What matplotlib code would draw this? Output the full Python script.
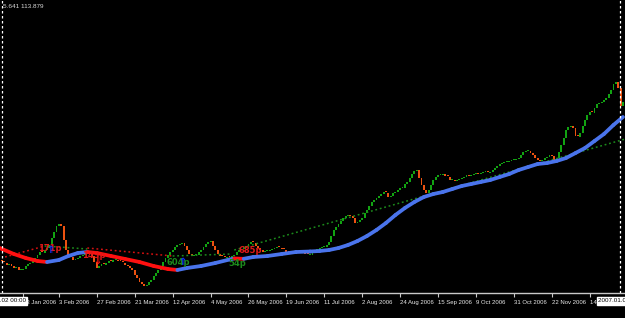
import numpy as np
import matplotlib.pyplot as plt
from matplotlib.collections import LineCollection

# daily closes, bar 0 = 2 Jan 2006
closes = [
    103.0, 102.9, 102.7, 102.8, 102.6, 102.4, 102.5, 102.2, 102.2, 102.3,
    102.6, 102.8, 102.9, 103.2, 103.4, 103.7, 104.0, 103.9, 104.2, 104.4,
    104.7, 105.4, 106.0, 106.6, 106.8, 106.6, 105.2, 104.2, 103.7, 103.5,
    103.2, 103.3, 103.4, 103.6, 103.7, 103.9, 104.0, 103.8, 103.6, 103.0,
    102.4, 102.6, 102.8, 102.7, 102.9, 103.1, 103.0, 103.2, 103.2, 103.1,
    103.0, 102.9, 102.7, 102.6, 102.4, 102.2, 101.7, 101.4, 101.0, 100.8,
    100.6, 100.7, 101.0, 101.2, 101.6, 101.9, 102.2, 102.6, 103.0, 103.4,
    103.7, 104.0, 104.2, 104.5, 104.7, 104.8, 104.9, 104.6, 104.2, 103.8,
    103.6, 103.7, 103.7, 104.0, 104.2, 104.5, 104.8, 105.0, 105.1, 104.6,
    104.2, 103.8, 103.6, 103.5, 103.4, 103.5, 103.4, 103.6, 103.7, 104.0,
    104.2, 104.3, 104.4, 104.6, 104.8, 105.0, 104.9, 104.6, 104.4, 104.2,
    104.0, 104.1, 104.1, 104.2, 104.3, 104.4, 104.5, 104.4, 104.3, 104.2,
    104.0, 103.9, 103.8, 103.8, 103.9, 104.0, 104.1, 104.0, 103.8, 103.7,
    103.7, 103.9, 104.2, 104.3, 104.4, 104.5, 104.5, 104.7, 105.0, 105.6,
    106.2, 106.5, 106.8, 107.1, 107.4, 107.6, 107.7, 107.6, 107.4, 106.9,
    107.0, 107.2, 107.4, 107.9, 108.2, 108.6, 109.0, 109.2, 109.4, 109.6,
    109.8, 110.0, 109.9, 109.5, 109.6, 109.9, 110.0, 110.2, 110.4, 110.4,
    110.8, 111.0, 111.4, 111.8, 112.1, 112.2, 111.4, 110.7, 110.2, 109.9,
    110.2, 110.7, 111.2, 111.5, 111.7, 111.7, 111.8, 111.6, 111.5, 111.2,
    111.2, 111.1, 111.2, 111.3, 111.4, 111.5, 111.7, 111.6, 111.7, 111.8,
    111.9, 111.8, 111.9, 112.0, 112.0, 111.9, 112.0, 112.2, 112.4, 112.6,
    112.8, 112.9, 113.0, 113.0, 113.1, 113.2, 113.2, 113.3, 113.4, 113.7,
    114.0, 114.1, 114.1, 113.9, 113.7, 113.4, 113.2, 113.1, 113.2, 113.4,
    113.5, 113.7, 113.6, 113.2, 113.4, 114.0, 114.7, 115.4, 116.2, 116.5,
    116.6, 116.4, 115.6, 115.5, 115.9, 116.6, 117.2, 117.7, 118.0, 117.9,
    118.4, 118.8, 118.9, 119.0, 119.2, 119.4, 119.8, 120.2, 120.8, 121.0,
    120.4, 118.6, 119.0,
]
first_open = 103.1

# smoothed moving average (bar index, value)
ma_idx = [-1, 0, 5, 10, 15, 19, 24, 28, 32, 36, 40, 46, 52, 58, 64, 70, 74, 78,
          84, 90, 96, 98, 102, 106, 112, 118, 124, 130, 134, 138, 142, 146, 150,
          154, 158, 162, 166, 170, 174, 178, 182, 186, 190, 194, 198, 202, 206,
          210, 214, 218, 222, 226, 230, 234, 238, 242, 246, 250, 254, 258, 262]
ma_val = [104.4, 104.3, 103.8, 103.4, 103.1, 103.0, 103.2, 103.6, 103.9, 104.0,
          103.9, 103.6, 103.3, 103.0, 102.6, 102.3, 102.2, 102.4, 102.6, 102.9,
          103.25, 103.35, 103.32, 103.5, 103.6, 103.8, 104.0, 104.05, 104.1, 104.2,
          104.4, 104.7, 105.1, 105.6, 106.2, 106.9, 107.7, 108.4, 109.0, 109.5,
          109.8, 110.0, 110.3, 110.6, 110.8, 111.0, 111.2, 111.5, 111.8, 112.2,
          112.5, 112.8, 112.9, 113.1, 113.4, 113.9, 114.4, 115.1, 115.8, 116.7,
          117.5]

# swing trend segments: (start bar, start value, end bar, end value, kind)
trend_segs = [
    (1.3, 103.5, 18, 104.6, 'down'),
    (18, 104.6, 36, 104.3, 'up'),
    (36, 104.4, 72, 103.6, 'down'),
    (72, 103.6, 97, 103.8, 'up'),
    (98, 104.2, 263, 115.3, 'up'),
]

# swing labels: (bar, value, text, kind)
swing_labels = [
    (15.2, 104.35, '171p', 'down'),
    (33.8, 103.7, '143p', 'down'),
    (69.6, 103.0, '604p', 'up'),
    (95.4, 102.85, '54p', 'up'),
    (99.6, 104.15, '685p', 'down'),
]
# signal arrows: (bar, value, direction)
arrows = [(20.3, 104.2, 'buy'), (40, 103.15, 'sell'), (76, 103.0, 'buy')]

tick_bars = [9, 24, 40, 56, 72, 88, 104, 120, 136, 152, 168, 184, 200, 216, 232, 248]
tick_labels = ['13 Jan 2006', '3 Feb 2006', '27 Feb 2006', '21 Mar 2006', '12 Apr 2006',
               '4 May 2006', '26 May 2006', '19 Jun 2006', '11 Jul 2006', '2 Aug 2006',
               '24 Aug 2006', '15 Sep 2006', '9 Oct 2006', '31 Oct 2006', '22 Nov 2006',
               '14 Dec 2006']
vline_bars = [0, 260.8]

bull = '#12a312'
bear = '#ec5210'
small_font = ['Liberation Sans', 'DejaVu Sans']

fig = plt.figure(figsize=(6.25, 3.18), dpi=100, facecolor='black')
ax = fig.add_axes([0, 25 / 318, 1, 293 / 318])
ax.set_facecolor('black')

# candles
closes = np.array(closes)
opens = np.concatenate([[first_open], closes[:-1]])
x = np.arange(len(closes))
body = closes - opens
body = np.where(np.abs(body) < 0.1, 0.1, body)
colors = np.where(closes >= opens, bull, bear)
ax.bar(x, body, bottom=opens, width=0.8, color=colors, linewidth=0, zorder=2)

# trend dotted lines
for x0, y0, x1, y1, kind in trend_segs:
    c = '#1c8a1c' if kind == 'up' else '#d41010'
    ax.plot([x0, x1], [y0, y1], color=c, lw=1.1, linestyle=(0, (1.2, 1.8)), zorder=3)

# moving average, red while falling, blue while rising
pts = np.column_stack([ma_idx, ma_val])
segs = np.stack([pts[:-1], pts[1:]], axis=1)
seg_colors = ['#ff1010' if b < a else '#4a74ec' for a, b in zip(ma_val[:-1], ma_val[1:])]
ax.add_collection(LineCollection(segs, colors=seg_colors, linewidths=2.7,
                                 capstyle='round', joinstyle='round', zorder=4))

for bx, by, txt, kind in swing_labels:
    c = '#1c8a1c' if kind == 'up' else '#e01818'
    ax.text(bx, by, txt, color=c, fontsize=6, fontweight='bold', va='center', ha='left', zorder=5)
for bx, by, d in arrows:
    if d == 'buy':
        ax.text(bx, by, '\u21d1', color='#1030ff', fontsize=7, fontweight='bold',
                ha='center', va='center', zorder=6)
    else:
        ax.text(bx, by, '\u21d3', color='#ff1010', fontsize=7, fontweight='bold',
                ha='center', va='center', zorder=6)

for vb in vline_bars:
    ax.axvline(vb, color='white', lw=0.9, linestyle=(0, (2, 2)), zorder=6)

ax.set_xlim(-0.844, 262.87)
ax.set_ylim(99.9, 129.2)
for s in ['top', 'right', 'left']:
    ax.spines[s].set_visible(False)
ax.spines['bottom'].set_color('#c8c8c8')
ax.spines['bottom'].set_linewidth(1)
ax.set_yticks([])
ax.set_xticks(tick_bars)
ax.set_xticklabels(tick_labels, ha='left', fontsize=4.3, color='#e8e8e8', family=small_font)
ax.tick_params(axis='x', direction='out', length=3, width=0.8, color='#c8c8c8', pad=2)

# crosshair date boxes and header
fig.text(26 / 625, 1 - 301 / 318, '2006.01.02 00:00', ha='right', va='center', fontsize=4.5,
         color='black', family=small_font, zorder=10,
         bbox=dict(facecolor='white', edgecolor='white', pad=1.0))
fig.text(598 / 625, 1 - 301 / 318, '2007.01.02 00:00', ha='left', va='center', fontsize=4.5,
         color='black', family=small_font, zorder=10,
         bbox=dict(facecolor='white', edgecolor='white', pad=1.0))
fig.text(3 / 625, 1 - 6 / 318, '5.641 113.879', ha='left', va='center', fontsize=4.6,
         color='#d8d8d8', family=small_font)

fig.savefig('out.png', dpi=100, facecolor='black')
